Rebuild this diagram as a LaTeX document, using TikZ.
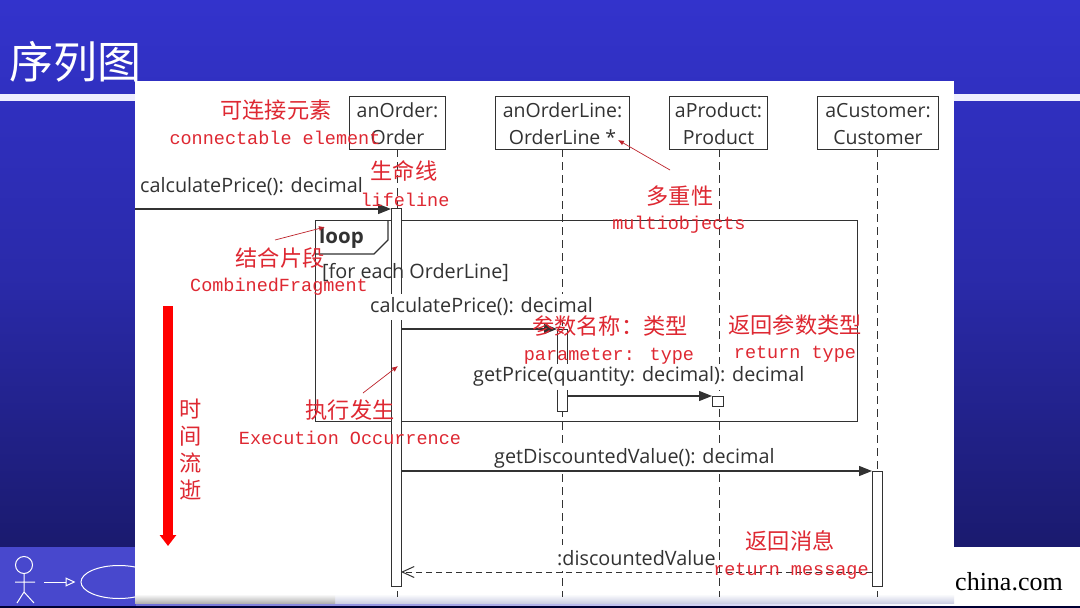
\documentclass[tikz,border=0pt]{standalone}
\usepackage{fontspec}
\setmainfont{Open Sans}
\newfontfamily\cjk{Noto Sans CJK SC}
\newfontfamily\redmono{Liberation Mono}
\newfontfamily\footserif{Liberation Serif}
\usetikzlibrary{arrows.meta,shapes.geometric}
\definecolor{ink}{RGB}{50,50,50}
\definecolor{redtxt}{RGB}{222,40,50}
\definecolor{bgtop}{RGB}{51,51,204}
\definecolor{bgmid}{RGB}{42,42,170}
\definecolor{bgbot}{RGB}{26,26,110}
\definecolor{strip}{RGB}{72,72,205}
\definecolor{shadowb}{RGB}{205,208,228}
\newcommand{\toprule}{\rule{0pt}{17pt}}
\tikzset{
  x=1pt,y=-1pt,
  objbox/.style={draw=ink,line width=1.1pt,fill=white,inner sep=0pt,align=center,text=ink,
    font=\fontsize{19.5}{27}\selectfont,minimum height=53pt},
  execbar/.style={draw=ink,line width=1.1pt,fill=white,inner sep=0pt,minimum width=10pt,anchor=north west},
  lifel/.style={draw=ink,line width=1pt,dash pattern=on 8pt off 5pt},
  msg/.style={draw=ink,line width=1.2pt,-{Triangle[length=13pt,width=10pt]}},
  retmsg/.style={draw=ink,line width=1pt,dash pattern=on 6pt off 4pt,-{Straight Barb[length=12pt,width=11pt,line width=1pt]}},
  lbl/.style={inner sep=0pt,text=ink,anchor=west,font=\fontsize{19.8}{22}\selectfont},
  mask/.style={lbl,fill=white,minimum height=26pt},
  cn/.style={inner sep=0pt,text=redtxt,font=\cjk\fontsize{22.2}{24}\selectfont},
  en/.style={inner sep=0pt,text=redtxt,font=\redmono\fontsize{18.5}{22}\selectfont},
  note/.style={draw=redtxt!85!black,line width=.7pt,-{Latex[length=6pt,width=5pt]}},
}
\begin{document}
\begin{tikzpicture}
\useasboundingbox (0,0) rectangle (1080,608);
% slide background
\path[top color=bgtop,bottom color=bgbot,middle color=bgmid,draw=none] (0,0) rectangle (1080,548);
\fill[white!93!blue] (0,94) rectangle (1080,101);
\fill[strip] (0,547) rectangle (136,606);
\fill[white] (954,547) rectangle (1080,606);
\path[left color=strip!80!white,right color=white] (136,603) rectangle (954,606);
\fill[black!80!blue] (0,606) rectangle (1080,608);
\node[inner sep=0pt,text=white,font=\cjk\fontsize{44}{46}\selectfont,anchor=west] (title) at (9,62) {序列图};
% footer icon
\node[circle,draw=white,line width=1pt,minimum size=17pt,inner sep=0pt] (head) at (24,565) {};
\coordinate (hip) at (24,592);
\coordinate (armL) at (15,582);
\coordinate (armR) at (35,582);
\coordinate (legL) at (17,603);
\coordinate (legR) at (34,603);
\draw[white,line width=1pt] (head.south) -- (hip) (armL) -- (armR) (legL) -- (hip) -- (legR);
\node[ellipse,draw=white,line width=1pt,minimum width=76pt,minimum height=33pt,inner sep=0pt] (uc) at (119,582) {};
\coordinate (iconArrow) at (44,582);
\draw[white,line width=1pt,shorten >=5pt,-{Triangle[open,length=10pt,width=9pt]}] (iconArrow) -- (uc.west);
\node[inner sep=0pt,anchor=west,text=black,font=\footserif\fontsize{26}{28}\selectfont] (site) at (955,582) {china.com};
% white panel
\fill[white] (135,81) rectangle (954,596);
\path[top color=white,bottom color=shadowb] (135,594) rectangle (954,603);
\path[top color=white,bottom color=black!30] (135,594) rectangle (335,603);
% loop frame
\node[draw=ink,line width=1.1pt,inner sep=0pt,minimum width=542pt,minimum height=201pt,anchor=north west] (loopf) at (315,220) {};
\coordinate (p1) at (388,220);
\coordinate (p2) at (388,240);
\coordinate (p3) at (374,254);
\coordinate (p4) at (315,254);
\draw[ink,line width=1.1pt] (p1) -- (p2) -- (p3) -- (p4);
% objects
\node[objbox,minimum width=96pt,anchor=north west] (o1) at (349,96) {\toprule anOrder:\\Order};
\node[objbox,minimum width=134pt,anchor=north west] (o2) at (495,96) {\toprule anOrderLine:\\OrderLine *};
\node[objbox,minimum width=98pt,anchor=north west] (o3) at (669,96) {\toprule aProduct:\\Product};
\node[objbox,minimum width=121pt,anchor=north west] (o4) at (817,96) {\toprule aCustomer:\\Customer};
% lifelines
\coordinate (e1) at (397,597);
\coordinate (e2) at (562,597);
\coordinate (e3) at (719,597);
\coordinate (e4) at (877,597);
\draw[lifel] (397,149) -- (e1);
\draw[lifel] (562,149) -- (e2);
\draw[lifel] (719,149) -- (e3);
\draw[lifel] (877,149) -- (e4);
% execution bars
\node[execbar,minimum height=378pt] (x1) at (391,208) {};
\node[execbar,minimum height=82pt] (x2) at (557,329) {};
\node[execbar,minimum width=11pt,minimum height=10pt] (x3) at (712,396) {};
\node[execbar,minimum height=115pt] (x4) at (872,471) {};
% loop texts
\node[lbl,font=\bfseries\fontsize{20.5}{22}\selectfont] (loopt) at (319,238) {loop};
\node[lbl] (guard) at (322,272) {[for each OrderLine]};
% messages
\coordinate (start) at (135,209);
\coordinate (m2) at (401,329);
\coordinate (m3) at (567,396);
\coordinate (m4) at (401,471);
\coordinate (m5) at (872,572);
\coordinate (m5e) at (401,572);
\draw[msg] (start) -- (start -| x1.west);
\node[lbl] (l1) at (140,186.5) {calculatePrice(): decimal};
\node[mask] (l2) at (370,306.5) {calculatePrice(): decimal};
\node[mask] (l3) at (473,376.5) {getPrice(quantity: decimal): decimal};
\node[mask] (l4) at (494,458) {getDiscountedValue(): decimal};
\node[mask] (l5) at (557,558) {:discountedValue};
\draw[msg] (m2) -- (m2 -| x2.west);
\draw[msg] (m3) -- (m3 -| x3.west);
\draw[msg] (m4) -- (m4 -| x4.west);
\draw[retmsg] (m5) -- (m5e);
% time arrow
\coordinate (t1) at (168,306);
\coordinate (t2) at (168,546);
\draw[red,line width=10pt,-{Triangle[length=11pt,width=16pt]}] (t1) -- (t2);
\node[cn] (t-a) at (191,409) {时};
\node[cn] (t-b) at (191,436) {间};
\node[cn] (t-c) at (191,463) {流};
\node[cn] (t-d) at (191,490) {逝};
% red annotations
\node[cn] (c1) at (276,110) {可连接元素};
\node[en] (c1e) at (275,138) {connectable element};
\node[cn] (c2) at (404,171) {生命线};
\node[en] (c2e) at (405,200) {lifeline};
\node[cn] (c3) at (680,196) {多重性};
\node[en] (c3e) at (679,224.5) {multiobjects};
\node[cn] (c4) at (280,258) {结合片段};
\node[en] (c4e) at (279,287) {CombinedFragment};
\node[cn] (c5) at (610,326) {参数名称：类型};
\node[en] (c5e) at (609,356) {parameter: type};
\node[cn] (c6) at (795,325) {返回参数类型};
\node[en] (c6e) at (795,354) {return type};
\node[cn] (c7) at (350,410) {执行发生};
\node[en] (c7e) at (350,438) {Execution Occurrence};
\node[cn] (c8) at (790,541) {返回消息};
\node[en] (c8e) at (791,571) {return message};
\coordinate (a3s) at (670,170);
\coordinate (a3e) at (618,140);
\coordinate (a4s) at (275,240);
\coordinate (a4e) at (325,227);
\coordinate (a7s) at (363,393);
\coordinate (a7e) at (398,366);
\draw[note] (a3s) -- (a3e);
\draw[note] (a4s) -- (a4e);
\draw[note] (a7s) -- (a7e);
\end{tikzpicture}
\end{document}
